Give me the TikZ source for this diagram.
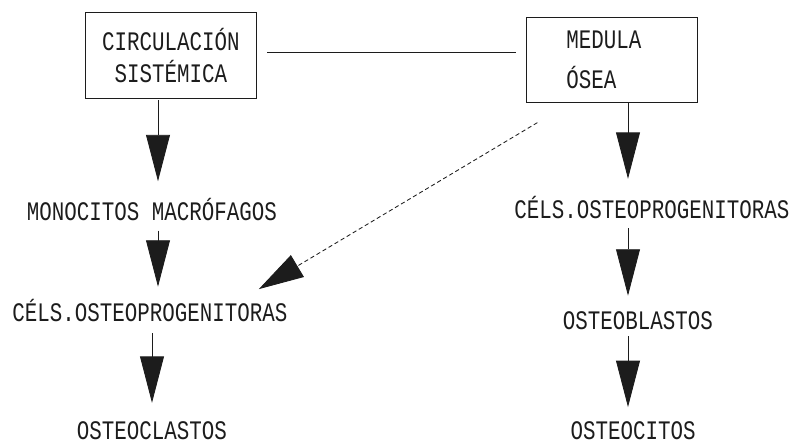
\documentclass[tikz,border=0pt]{standalone}
\usepackage{fontspec}
\newfontfamily\dotfont[FakeStretch=0.78]{Liberation Mono}
\usetikzlibrary{arrows.meta, positioning, calc}
\definecolor{inkdark}{HTML}{1C1C1C}

\begin{document}
\begin{tikzpicture}[
  box/.style={draw=inkdark, line width=0.9pt, minimum width=4.28cm, minimum height=2.14cm,
    font=\dotfont\fontsize{19}{23}\selectfont, text=inkdark},
  lbl/.style={font=\dotfont\fontsize{19}{23}\selectfont, text=inkdark, inner sep=0pt,
    text height=12.8pt, text depth=0pt},
  arr/.style={inkdark, line width=0.6pt, -{Triangle[length=33pt, width=17pt]}},
  link/.style={inkdark, line width=0.6pt, densely dashed, -{Triangle[length=32pt, width=18pt]}}
]
  \useasboundingbox (0,0) rectangle (19.825,11.1);

  % Boxes
  \node[box, align=center] (circ) at (4.275,9.71) {CIRCULACIÓN\\SISTÉMICA};
  \node[box, text width=2.28cm, align=left] (medula) at (15.3,9.6) {MEDULA\\[5pt]ÓSEA};
  \draw[inkdark, line width=0.7pt, shorten <=2.5mm, shorten >=2.5mm]
    ([yshift=0.9mm]circ.east) -- ([yshift=0.9mm]circ.east -| medula.west);

  % Left column
  \coordinate (lcol) at (3.95,0);
  \node[lbl] (mono) at (3.8,5.81) {MONOCITOS MACRÓFAGOS};
  \node[lbl] (cels1) at (3.75,3.3) {CÉLS.OSTEOPROGENITORAS};
  \node[lbl] (clastos) at (3.8,0.34) {OSTEOCLASTOS};
  \draw[arr, shorten <=1pt, shorten >=15pt] (circ.south -| lcol) -- (mono.north -| lcol);
  \draw[arr, shorten <=7pt, shorten >=11.4pt] (mono.south -| lcol) -- (cels1.north -| lcol);
  \draw[arr, shorten <=8.5pt, shorten >=13pt] (cels1.south -| clastos.north) -- (clastos.north);

  % Right column
  \coordinate (rcol) at (15.7,0);
  \node[lbl] (cels2) at (16.3,5.85) {CÉLS.OSTEOPROGENITORAS};
  \node[lbl] (blastos) at (15.95,3.1) {OSTEOBLASTOS};
  \node[lbl] (citos) at (15.83,0.34) {OSTEOCITOS};
  \draw[arr, shorten >=15.6pt] (medula.south -| rcol) -- (cels2.north -| rcol);
  \draw[arr, shorten <=6.4pt, shorten >=10.7pt] (cels2.south -| rcol) -- (blastos.north -| rcol);
  \draw[arr, shorten <=5pt, shorten >=10pt] (blastos.south -| rcol) -- (citos.north -| rcol);

  % Medula -> left progenitors
  \draw[link] ([shift={(0.29,-0.48)}]medula.south west) -- ([shift={(2.72,0.34)}]cels1.north);
\end{tikzpicture}
\end{document}
